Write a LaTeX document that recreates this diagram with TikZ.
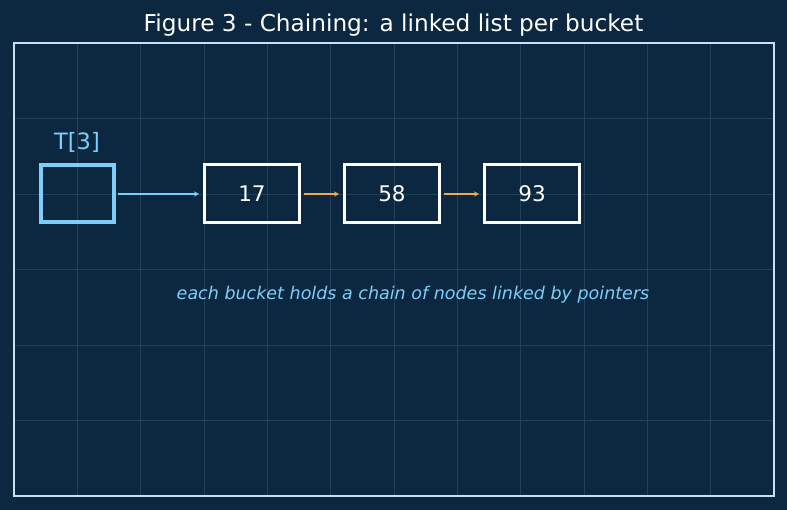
\documentclass[tikz,border=0pt]{standalone}
\usepackage{fontspec}
\setmainfont{DejaVu Sans}
\usepackage{tikz}
\usetikzlibrary{positioning, arrows.meta}

\definecolor{bgnavy}{RGB}{11,40,64}
\definecolor{gridline}{RGB}{34,64,90}
\definecolor{framecol}{RGB}{200,224,240}
\definecolor{skyblue}{RGB}{125,206,250}
\definecolor{linkorange}{RGB}{240,170,80}

\begin{document}
\begin{tikzpicture}[x=1pt, y=-1pt,
    cell/.style={draw=white, line width=3pt, minimum width=95pt, minimum height=58pt,
      inner sep=0pt, text=white, font=\fontsize{21.5}{26}\selectfont},
    bucketbox/.style={draw=skyblue, line width=4pt, minimum width=73pt, minimum height=57pt,
      inner sep=0pt},
    link/.style={line width=2.6pt, -{Stealth[length=5pt, width=5pt]}}]
    % ---- Background and frame ----
    \fill[bgnavy] (0,0) rectangle (787,510);
    \useasboundingbox (0,0) rectangle (787,510);
    \foreach \i in {1,...,11}
      \draw[gridline, line width=0.8pt] ({14+\i*63.33},43) -- ({14+\i*63.33},496);
    \foreach \j in {1,...,5}
      \draw[gridline, line width=0.8pt] (14,{43+\j*75.5}) -- (774,{43+\j*75.5});
    \draw[framecol, line width=1.8pt] (14,43) rectangle (774,496);
    \node[text=white, font=\fontsize{23.2}{28}\selectfont] (title) at (393.5,25.5)
      {Figure 3 - Chaining: a linked list per bucket};
    % ---- Bucket and chain ----
    \node[bucketbox] (bucket) at (77,194) {};
    \node[text=skyblue, font=\fontsize{22.5}{26}\selectfont] (blabel) at (77,142) {T[3]};
    \node[cell] (n17) at (252,194) {17};
    \node[cell, right=42pt of n17] (n58) {58};
    \node[cell, right=42pt of n58] (n93) {93};
    \draw[link, skyblue, shorten <=2pt, shorten >=4pt] (bucket) -- (n17);
    \draw[link, linkorange, shorten <=3pt, shorten >=4pt] (n17) -- (n58);
    \draw[link, linkorange, shorten <=3pt, shorten >=4pt] (n58) -- (n93);
    \node[text=skyblue, font=\fontsize{17.5}{21}\selectfont\itshape] (caption) at (413,295)
      {each bucket holds a chain of nodes linked by pointers};
\end{tikzpicture}
\end{document}
